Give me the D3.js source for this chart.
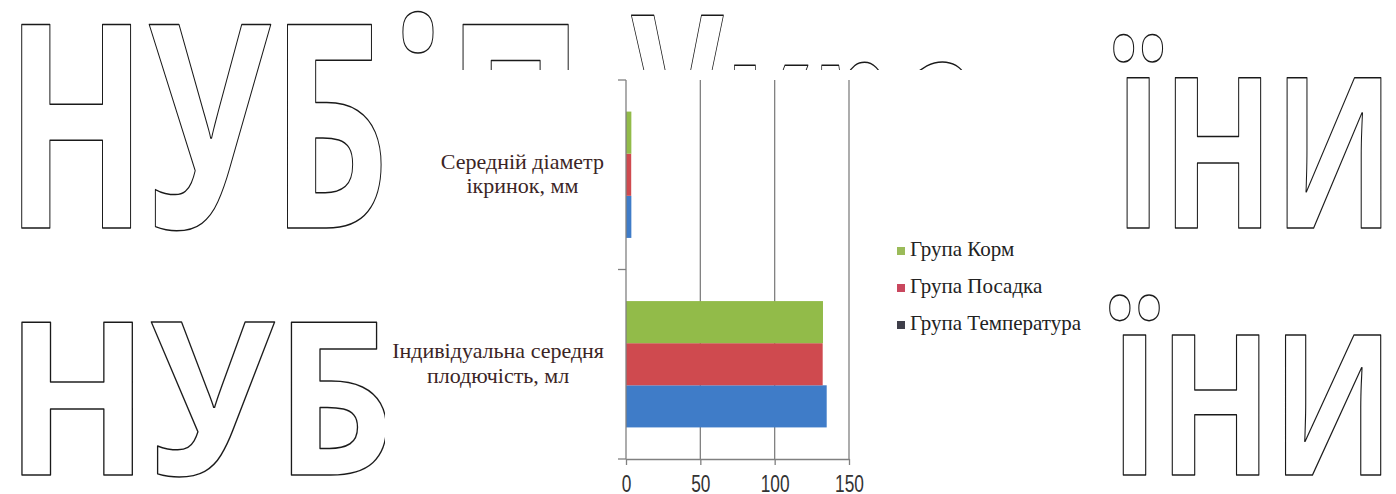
<!DOCTYPE html>
<html><head><meta charset="utf-8">
<script src="https://cdn.jsdelivr.net/npm/d3@7"></script>
<style>html,body{margin:0;padding:0;background:#fff;overflow:hidden}</style>
</head><body><svg id="c" width="1396" height="494"></svg>
<script>
// ---- data ----
const categories = ["Середній діаметр ікринок, мм", "Індивідуальна середня плодючість, мл"];
const categoryLines = [["Середній діаметр", "ікринок, мм"], ["Індивідуальна середня", "плодючість, мл"]];
const seriesNames = ["Група Температура", "Група Посадка", "Група Корм"];
const tempValues = [3.6, 135.0];
const posadkaValues = [3.5, 132.3];
const kormValues = [3.6, 132.5];
const xTicks = [0, 50, 100, 150];
const seriesColors = ["#3f7cc8", "#cf4a4f", "#92bb49"];
const legendMarkerColors = ["#3f3f4a", "#c9475e", "#9bbb59"];

const seriesValues = [tempValues, posadkaValues, kormValues];

const svg = d3.select("#c");

// ---- watermark (outlined letters) ----
const wmPieces = [
  {t: "НУБіП", x: 5, y: 228, s: 285, w: 580},
  {t: "Укра", x: 630, y: 228, s: 298, w: 355},
  {t: "ЇНИ", x: 1114, y: 228, s: 210, w: 280},
  {t: "НУБ", x: 5, y: 475, s: 213, w: 390},
  {t: "ЇНИ", x: 1110, y: 475, s: 196, w: 284}
];
const wm = svg.append("g")
  .attr("font-family", "'Open Sans', 'DejaVu Sans', sans-serif")
  .attr("font-weight", 700)
  .attr("fill", "#fff").attr("stroke", "#1a1a1a").attr("stroke-width", 1.5)
  .attr("stroke-linejoin", "round");
wm.selectAll("text").data(wmPieces).join("text")
  .attr("x", d => d.x).attr("y", d => d.y)
  .attr("font-size", d => d.s)
  .attr("textLength", d => d.w).attr("lengthAdjust", "spacingAndGlyphs")
  .text(d => d.t);

// ---- chart area background ----
svg.append("rect").attr("x", 385).attr("y", 70).attr("width", 712).attr("height", 424).attr("fill", "#fff");

// ---- scales ----
const x = d3.scaleLinear().domain([0, 150]).range([626, 849]);
const y = d3.scaleBand().domain(categories).range([80, 459]).padding(0);
const groupH = y.bandwidth() / 1.5;
const inner = d3.scaleBand().domain(seriesNames.slice().reverse()).range([0, groupH]);

const g = svg.append("g");

// gridlines
g.selectAll("line.grid").data(xTicks.filter(t => t > 0)).join("line")
  .attr("class", "grid")
  .attr("x1", d => x(d)).attr("x2", d => x(d))
  .attr("y1", 80).attr("y2", 459)
  .attr("stroke", "#808080").attr("stroke-width", 1.3);

// bars
seriesNames.forEach((s, si) => {
  g.selectAll("rect.s" + si).data(categories).join("rect")
    .attr("class", "s" + si)
    .attr("x", x(0))
    .attr("y", c => y(c) + (y.bandwidth() - groupH) / 2 + inner(s))
    .attr("width", (c, i) => x(seriesValues[si][i]) - x(0))
    .attr("height", inner.bandwidth())
    .attr("fill", seriesColors[si]);
});

// left (category) axis
g.append("line").attr("x1", x(0)).attr("x2", x(0)).attr("y1", 80).attr("y2", 459)
  .attr("stroke", "#808080").attr("stroke-width", 1.3);
const bounds = categories.map(c => y(c)).concat([y(categories[categories.length - 1]) + y.bandwidth()]);
g.selectAll("line.ctick").data(bounds).join("line")
  .attr("class", "ctick")
  .attr("x1", x(0) - 8).attr("x2", x(0)).attr("y1", d => d).attr("y2", d => d)
  .attr("stroke", "#808080").attr("stroke-width", 1.3);

// bottom axis
const xAxis = d3.axisBottom(x).tickValues(xTicks).tickSize(6).tickSizeOuter(0).tickFormat(d3.format("d"));
const ax = g.append("g").attr("transform", "translate(0,459)").call(xAxis);
ax.select(".domain").attr("stroke", "#808080").attr("stroke-width", 1.3);
ax.selectAll(".tick line").attr("stroke", "#808080").attr("stroke-width", 1.3);
ax.selectAll(".tick text")
  .attr("font-family", "'Liberation Sans', Arial, sans-serif")
  .attr("font-size", 24).attr("fill", "#333")
  .attr("dy", null).attr("y", 33)
  .attr("transform", "scale(0.72,1)");

// category labels
const lh = 24.5;
categories.forEach((c, ci) => {
  const lines = categoryLines[ci];
  const cy = y(c) + y.bandwidth() / 2;
  const tg = g.append("g")
    .attr("font-family", "'Liberation Serif', 'Times New Roman', serif")
    .attr("font-size", 22).attr("fill", "#3b2525").attr("text-anchor", "middle");
  const ts = tg.selectAll("text").data(lines).join("text")
    .attr("y", (d, i) => cy + (i - (lines.length - 1) / 2) * lh + 6)
    .text(d => d);
  let maxW = 0;
  ts.each(function () { maxW = Math.max(maxW, this.getComputedTextLength()); });
  ts.attr("x", 604 - maxW / 2);
});

// legend
const legendOrder = seriesNames.slice().reverse();
const lg = svg.append("g")
  .attr("font-family", "'Liberation Serif', 'Times New Roman', serif")
  .attr("font-size", 21).attr("fill", "#222");
legendOrder.forEach((s, i) => {
  const by = 256 + i * 37;
  lg.append("rect").attr("x", 897).attr("y", by - 9).attr("width", 8).attr("height", 8)
    .attr("fill", legendMarkerColors[legendMarkerColors.length - 1 - i]);
  lg.append("text").attr("x", 910).attr("y", by).text(s);
});
</script>
</body></html>
